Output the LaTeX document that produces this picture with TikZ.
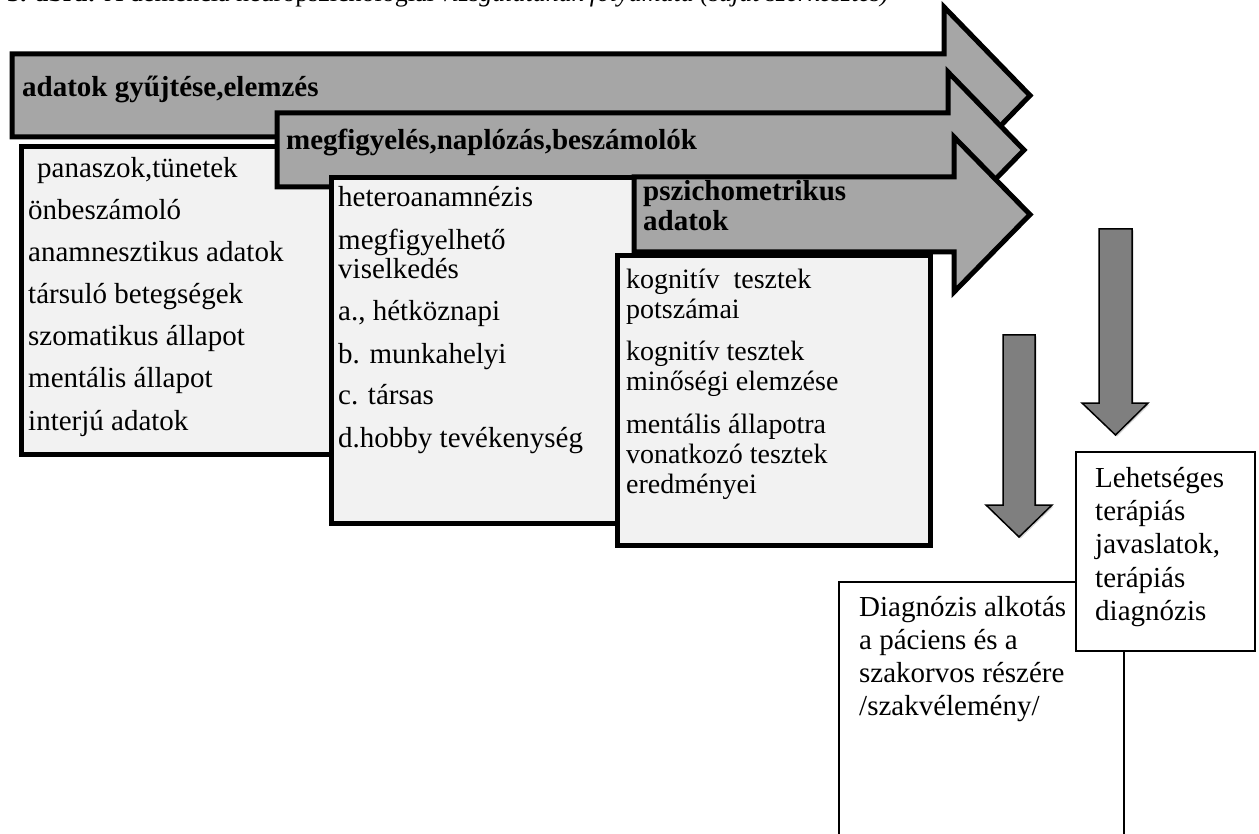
\documentclass[tikz,border=0pt]{standalone}
\usepackage{fontspec}
\setmainfont{Liberation Serif}
\usetikzlibrary{shadows}
\definecolor{arrowgray}{HTML}{A6A6A6}
\definecolor{panelgray}{HTML}{F2F2F2}
\definecolor{downgray}{HTML}{7F7F7F}

% wide process arrow: left x, shaft top, shaft bottom, notch x, head top, head bottom, tip x, tip y
\newcommand\flowarrow[8]{%
  \draw[bigarrow] (#1,#2) -- (#4,#2) -- (#4,#5) -- (#7,#8) -- (#4,#6) -- (#4,#3) -- (#1,#3) -- cycle;}
% vertical block arrow: shaft left, shaft right, top, head start, head left, head right, tip y
\newcommand\dnarrow[7]{%
  \draw[downshape] (#1,#3) -- (#2,#3) -- (#2,#4) -- (#6,#4) -- ({(#1+#2)/2},#7) -- (#5,#4) -- (#1,#4) -- cycle;}

\begin{document}
\begin{tikzpicture}[x=1pt,y=-1pt,
  bigarrow/.style={draw=black,line width=5pt,fill=arrowgray,line join=miter},
  panel/.style={draw=black,line width=5pt,fill=panelgray,anchor=north west,inner sep=0pt},
  plainbox/.style={draw=black,line width=1.6pt,fill=white,anchor=north west,inner sep=0pt},
  downshape/.style={draw=black,line width=1.5pt,fill=downgray,line join=miter,
    drop shadow={shadow xshift=1.5pt,shadow yshift=-1.5pt,opacity=0.35}},
  headtext/.style={font=\fontsize{29}{30}\selectfont\bfseries,anchor=base west,inner sep=0pt},
  itemtext/.style={font=\fontsize{29}{30}\selectfont,anchor=base west,inner sep=0pt},
  testtext/.style={font=\fontsize{28}{30}\selectfont,anchor=base west,inner sep=0pt},
  resulttext/.style={font=\fontsize{29}{33}\selectfont,anchor=base west,inner sep=0pt},
  titletext/.style={font=\fontsize{26}{28}\selectfont,anchor=base west,inner sep=0pt}]
\useasboundingbox (0,0) rectangle (1259,834);
\clip (0,0) rectangle (1259,834);

% caption line, cut by the upper edge
\node[titletext] (title) at (7,1.5)
  {\textbf{3. ábra:} A demencia neuropszichológiai \textit{vizsgálatának folyamata (saját szerkesztés)}};

% first stage
\flowarrow{12}{54}{137}{944}{7}{184}{1030}{95.5}
\node[headtext] (s1) at (22,97) {adatok gyűjtése,elemzés};
\node[panel,minimum width=316pt,minimum height=308pt] (box1) at (19,144) {};
\node[itemtext] (b1a) at (37,178) {panaszok,tünetek};
\node[itemtext] (b1b) at (28,220) {önbeszámoló};
\node[itemtext] (b1c) at (28,262) {anamnesztikus adatok};
\node[itemtext] (b1d) at (28,304) {társuló betegségek};
\node[itemtext] (b1e) at (28,346) {szomatikus állapot};
\node[itemtext] (b1f) at (28,388) {mentális állapot};
\node[itemtext] (b1g) at (28,430) {interjú adatok};

% second stage
\flowarrow{277}{113}{187}{948}{72}{228}{1024}{150}
\node[headtext] (s2) at (286,150) {megfigyelés,naplózás,beszámolók};
\node[panel,minimum width=316pt,minimum height=346pt] (box2) at (329,175) {};
\node[itemtext] (b2a) at (338,207) {heteroanamnézis};
\node[itemtext] (b2b) at (338,250) {megfigyelhető};
\node[itemtext] (b2c) at (338,279) {viselkedés};
\node[itemtext] (b2d) at (338,321) {a., hétköznapi};
\node[itemtext] (b2e) at (338,363) {b. munkahelyi};
\node[itemtext] (b2f) at (338,405) {c. társas};
\node[itemtext] (b2g) at (338,447) {d.hobby tevékenység};

% third stage
\flowarrow{634}{177}{252}{954}{137}{292}{1030}{214.5}
\node[headtext] (s3a) at (643,201) {pszichometrikus};
\node[headtext] (s3b) at (643,231) {adatok};
\node[panel,minimum width=313pt,minimum height=290pt] (box3) at (615,253) {};
\node[testtext] (b3a) at (626,289) {kognitív\ \ tesztek};
\node[testtext] (b3b) at (626,319) {potszámai};
\node[testtext] (b3c) at (626,361) {kognitív tesztek};
\node[testtext] (b3d) at (626,391) {minőségi elemzése};
\node[testtext] (b3e) at (626,433) {mentális állapotra};
\node[testtext] (b3f) at (626,463) {vonatkozó tesztek};
\node[testtext] (b3g) at (626,493) {eredményei};

% downward arrows to the outcomes
\dnarrow{1003}{1035}{335}{505}{986}{1052}{537}
\dnarrow{1099}{1132}{229}{403}{1082}{1148}{435}

% outcomes
\node[plainbox,minimum width=285pt,minimum height=262pt] (diag) at (838,581) {};
\node[resulttext] (d1) at (859,616) {Diagnózis alkotás};
\node[resulttext] (d2) at (859,649) {a páciens és a};
\node[resulttext] (d3) at (859,682) {szakorvos részére};
\node[resulttext] (d4) at (859,715) {/szakvélemény/};

\node[plainbox,minimum width=179pt,minimum height=199pt] (ther) at (1075,451) {};
\node[resulttext] (t1) at (1095,487) {Lehetséges};
\node[resulttext] (t2) at (1095,520) {terápiás};
\node[resulttext] (t3) at (1095,553) {javaslatok,};
\node[resulttext] (t4) at (1095,587) {terápiás};
\node[resulttext] (t5) at (1095,620) {diagnózis};
\end{tikzpicture}
\end{document}
